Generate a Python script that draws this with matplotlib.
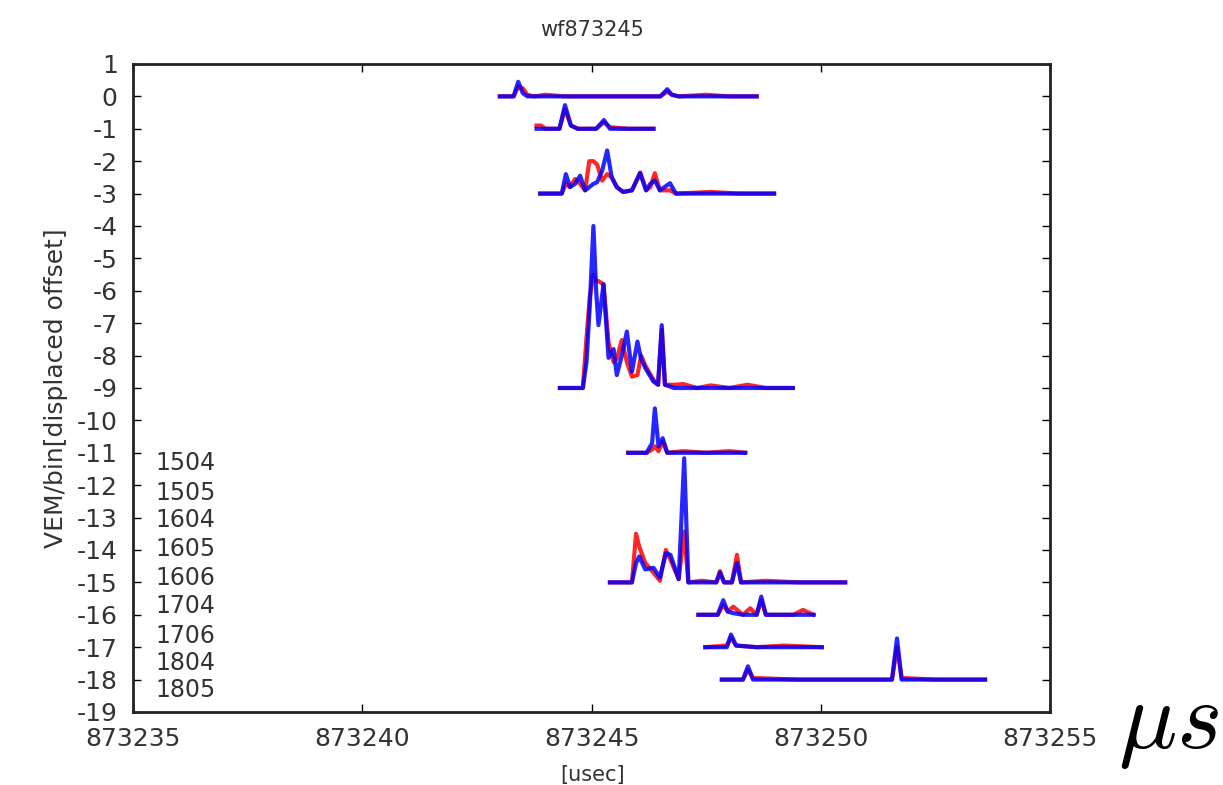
import matplotlib
matplotlib.use("Agg")
import matplotlib.pyplot as plt

plt.rcParams['font.family'] = ['DejaVu Sans']
plt.rcParams['axes.unicode_minus'] = False
plt.rcParams['mathtext.fontset'] = 'cm'

# baselines of each station trace (displaced offset)
offsets = [0, -1, -3, -9, -11, -15, -16, -17, -18]
stations = ['1504', '1505', '1604', '1605', '1606', '1704', '1706', '1804', '1805']
station_y = [-11.31, -12.24, -13.07, -13.97, -14.86, -15.73, -16.65, -17.49, -18.32]

# trace 1 (offset 0)
t1 = [873243.0, 873243.3, 873243.4, 873243.5, 873243.6, 873243.75, 873244.0, 873244.4, 873245.0,
      873246.5, 873246.65, 873246.75, 873246.9, 873247.5, 873248.0, 873248.6]
b1 = [0, 0, 0.45, 0.1, 0, 0, 0, 0, 0, 0, 0.22, 0.05, 0, 0, 0, 0]
r1 = [0, 0, 0.3, 0.25, 0.05, 0, 0.05, 0, 0, 0, 0.15, 0.05, 0, 0.05, 0, 0]

# trace 2 (offset -1)
t2 = [873243.8, 873243.9, 873244.0, 873244.3, 873244.42, 873244.55, 873244.7, 873245.1,
      873245.27, 873245.4, 873245.8, 873246.35]
b2 = [0, 0, 0, 0, 0.73, 0.1, 0, 0, 0.27, 0, 0, 0]
r2 = [0.1, 0.1, 0, 0, 0.6, 0.1, 0, 0, 0.2, 0.05, 0, 0]

# trace 3 (offset -3)
t3 = [873243.88, 873244.35, 873244.44, 873244.53, 873244.64, 873244.75, 873244.86, 873244.95,
      873245.04, 873245.12, 873245.23, 873245.34, 873245.44, 873245.55, 873245.69, 873245.88,
      873246.06, 873246.19, 873246.28, 873246.38, 873246.49, 873246.71, 873246.84, 873247.6,
      873248.2, 873248.98]
b3 = [0, 0, 0.6, 0.2, 0.3, 0.55, 0.1, 0.2, 0.3, 0.35, 0.7, 1.33, 0.5, 0.2, 0.05, 0.1,
      0.63, 0.1, 0.3, 0.4, 0.1, 0.32, 0, 0, 0, 0]
r3 = [0, 0, 0.3, 0.2, 0.45, 0.3, 0.1, 1.0, 1.0, 0.9, 0.4, 0.6, 0.5, 0.2, 0.05, 0.1,
      0.65, 0.1, 0.2, 0.63, 0.1, 0.1, 0, 0.05, 0, 0]

# trace 4 (offset -9)
t4 = [873244.31, 873244.81, 873244.89, 873244.96, 873245.04, 873245.10, 873245.15, 873245.26,
      873245.37, 873245.48, 873245.55, 873245.66, 873245.77, 873245.88, 873246.0, 873246.08,
      873246.17, 873246.35, 873246.45, 873246.53, 873246.6, 873246.8, 873247.0, 873247.3,
      873247.6, 873248.0, 873248.4, 873248.8, 873249.39]
b4 = [0, 0, 0.8, 2.5, 5.0, 3.0, 1.94, 3.2, 0.93, 1.2, 0.4, 1.0, 1.74, 0.5, 1.43, 0.9,
      0.62, 0.2, 0.1, 1.94, 0.1, 0, 0, 0, 0, 0, 0, 0, 0]
r4 = [0, 0, 1.55, 2.8, 3.5, 3.3, 3.3, 3.2, 1.4, 0.8, 0.9, 1.48, 0.8, 0.35, 0.4, 1.0,
      0.7, 0.25, 0.1, 1.8, 0.1, 0.1, 0.12, 0, 0.08, 0, 0.1, 0, 0]

# trace 5 (offset -11)
t5 = [873245.8, 873246.2, 873246.32, 873246.38, 873246.46, 873246.55, 873246.65, 873247.0,
      873247.5, 873248.0, 873248.35]
b5 = [0, 0, 0.3, 1.37, 0.2, 0.45, 0, 0, 0, 0, 0]
r5 = [0, 0, 0.1, 0.2, 0.05, 0.35, 0, 0.05, 0, 0.05, 0]

# trace 6 (offset -15)
t6 = [873245.4, 873245.88, 873245.97, 873246.04, 873246.17, 873246.35, 873246.49, 873246.62,
      873246.72, 873246.9, 873247.02, 873247.11, 873247.4, 873247.72, 873247.8, 873247.89,
      873248.06, 873248.17, 873248.26, 873248.8, 873249.5, 873250.53]
b6 = [0, 0, 0.6, 0.8, 0.4, 0.45, 0.15, 0.9, 0.85, 0.1, 3.83, 0, 0, 0, 0.3, 0, 0, 0.6, 0,
      0, 0, 0]
r6 = [0, 0, 1.5, 1.1, 0.6, 0.3, 0.05, 1.0, 0.7, 0.1, 1.57, 0, 0.05, 0, 0.35, 0, 0, 0.85, 0,
      0.05, 0, 0]

# trace 7 (offset -16)
t7 = [873247.33, 873247.75, 873247.87, 873247.97, 873248.09, 873248.3, 873248.46, 873248.6,
      873248.7, 873248.8, 873249.4, 873249.61, 873249.84]
b7 = [0, 0, 0.45, 0.1, 0.05, 0, 0, 0, 0.56, 0, 0, 0, 0]
r7 = [0, 0, 0.3, 0.1, 0.25, 0, 0.2, 0, 0.45, 0, 0, 0.15, 0]

# trace 8 (offset -17)
t8 = [873247.48, 873247.95, 873248.04, 873248.15, 873248.6, 873249.2, 873250.02]
b8 = [0, 0, 0.39, 0.05, 0, 0, 0]
r8 = [0, 0.05, 0.3, 0.05, 0, 0.05, 0]

# trace 9 (offset -18)
t9 = [873247.84, 873248.3, 873248.41, 873248.52, 873249.5, 873250.5, 873251.55, 873251.66,
      873251.76, 873252.5, 873253.58]
b9 = [0, 0, 0.41, 0, 0, 0, 0, 1.27, 0, 0, 0]
r9 = [0, 0, 0.3, 0.05, 0, 0, 0, 1.0, 0.05, 0, 0]

times = [t1, t2, t3, t4, t5, t6, t7, t8, t9]
blues = [b1, b2, b3, b4, b5, b6, b7, b8, b9]
reds = [r1, r2, r3, r4, r5, r6, r7, r8, r9]

fig = plt.figure(figsize=(12.23, 7.85), dpi=100)
ax = fig.add_axes([0.1087, 0.093, 0.75, 0.8255])

for off, t, b, r in zip(offsets, times, blues, reds):
    ax.plot(t, [off + v for v in r], color='#ff0000', lw=3, alpha=0.85)
    ax.plot(t, [off + v for v in b], color='#0000ff', lw=3, alpha=0.85)

txt = '#333333'
for name, y in zip(stations, station_y):
    ax.text(873235.48, y, name, fontsize=17, color=txt, va='center', ha='left')

ax.set_xlim(873235, 873255)
ax.set_ylim(-19, 1)
ax.set_xticks(range(873235, 873256, 5))
ax.set_yticks(range(-19, 2))
ax.ticklabel_format(axis='x', useOffset=False, style='plain')
ax.tick_params(direction='in', length=6, width=1, top=True, right=True,
               labelsize=18, labelcolor=txt)
ax.tick_params(axis='x', pad=11)
ax.tick_params(axis='y', pad=11)
for s in ax.spines.values():
    s.set_linewidth(2)
    s.set_color('#222222')

ax.set_title('wf873245', fontsize=15, color=txt, pad=20)
ax.set_ylabel('VEM/bin[displaced offset]', fontsize=18, color=txt, labelpad=6)
fig.text(593 / 1223, 1 - 785 / 785, '[usec]', fontsize=15, color=txt, ha='center', va='bottom')
fig.text(1118 / 1223, 1 - 748 / 785, r'$\mu s$', fontsize=70, color='black',
         ha='left', va='baseline')

fig.savefig('out.png', dpi=100)
